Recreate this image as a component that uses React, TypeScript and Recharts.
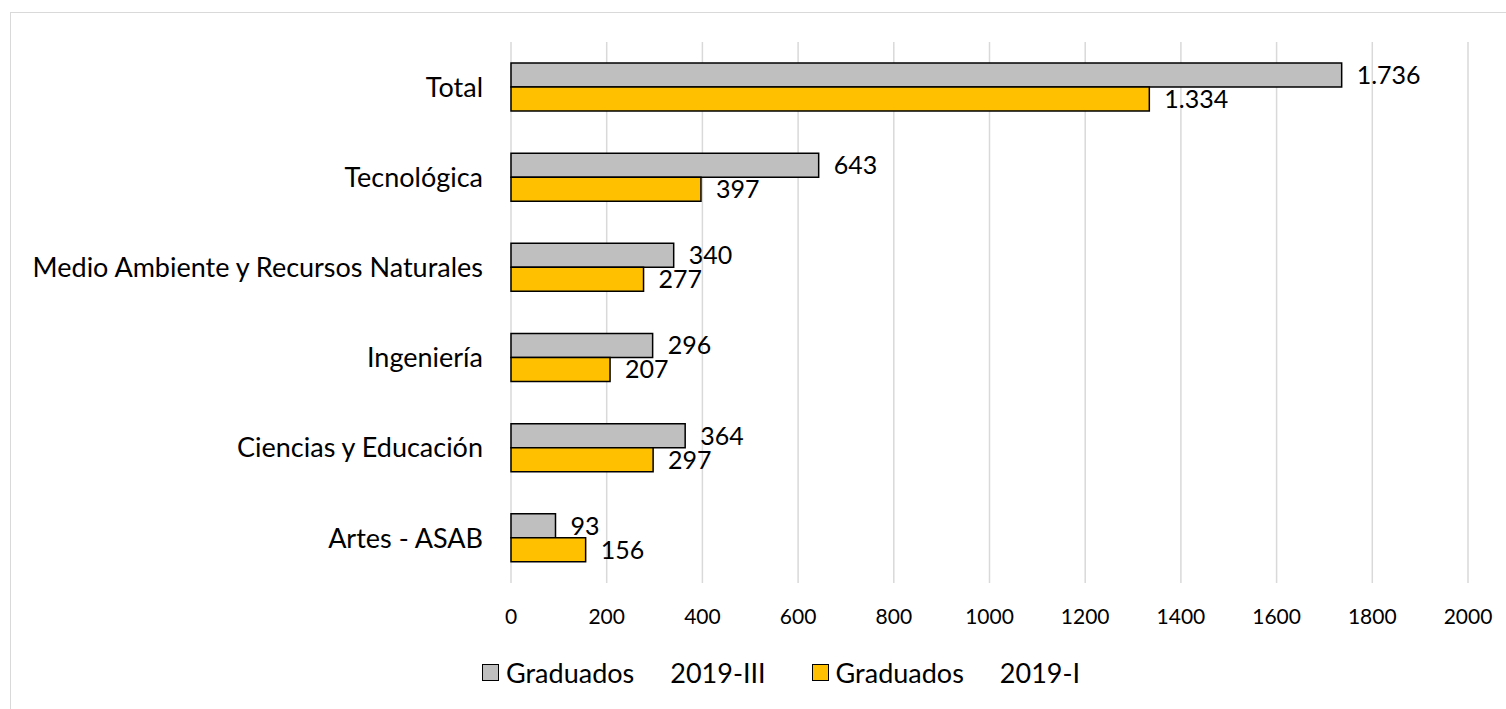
import React from 'react';
import { BarChart, Bar, XAxis, YAxis, CartesianGrid, Legend, LabelList } from 'recharts';

const categories = [
  'Total',
  'Tecnológica',
  'Medio Ambiente y Recursos Naturales',
  'Ingeniería',
  'Ciencias y Educación',
  'Artes - ASAB',
];
const graduados2019III = [1736, 643, 340, 296, 364, 93];
const graduados2019I = [1334, 397, 277, 207, 297, 156];
const xTicks = [0, 200, 400, 600, 800, 1000, 1200, 1400, 1600, 1800, 2000];

const data = categories.map((name, i) => ({
  name,
  g3: graduados2019III[i],
  g1: graduados2019I[i],
}));

const FONT = 'Lato, "Open Sans", sans-serif';
const GRAY = '#BFBFBF';
const YELLOW = '#FFC000';

// thousands separator with a dot, like the source (1.736)
const fmt = (v: any) => String(v).replace(/\B(?=(\d{3})+(?!\d))/g, '.');

function LegendBox() {
  const items = [
    { color: GRAY, label: 'Graduados', period: '2019-III' },
    { color: YELLOW, label: 'Graduados', period: '2019-I' },
  ];
  return (
    <div style={{ display: 'flex', alignItems: 'center', height: 30, fontFamily: FONT, fontSize: 27, color: '#000' }}>
      {items.map((it, i) => (
        <div key={i} style={{ display: 'flex', alignItems: 'center', marginRight: i === 0 ? 46 : 0 }}>
          <span
            style={{
              display: 'inline-block',
              width: 15,
              height: 15,
              background: it.color,
              border: '1.5px solid #000',
              marginRight: 7,
            }}
          />
          <span>{it.label}</span>
          <span style={{ marginLeft: 36 }}>{it.period}</span>
        </div>
      ))}
    </div>
  );
}

export default function App() {
  return (
    <div style={{ position: 'fixed', left: 0, top: 0, width: 1506, height: 709, overflow: 'hidden', background: '#fff' }}>
      <div
        style={{
          position: 'absolute',
          left: 10,
          top: 12,
          width: 1520,
          height: 720,
          border: '1.5px solid #D9D9D9',
        }}
      />
      <div style={{ position: 'absolute', left: 0, top: 0 }}>
        <BarChart
          width={1506}
          height={709}
          data={data}
          layout="vertical"
          margin={{ top: 42, right: 38, bottom: 46, left: 0 }}
          barSize={24}
          barGap={0}
        >
          <CartesianGrid horizontal={false} stroke="#D9D9D9" strokeWidth={1.5} />
          <XAxis
            type="number"
            domain={[0, 2000]}
            ticks={xTicks}
            axisLine={false}
            tickLine={false}
            tickMargin={20}
            height={50}
            interval={0}
            tick={{ fill: '#000', fontSize: 21, fontFamily: FONT }}
          />
          <YAxis
            type="category"
            dataKey="name"
            width={511}
            axisLine={false}
            tickLine={false}
            tickMargin={22}
            interval={0}
            tick={{ fill: '#000', fontSize: 27, fontFamily: FONT }}
          />
          <Legend
            verticalAlign="bottom"
            content={() => <LegendBox />}
            wrapperStyle={{ left: 482, bottom: 22, height: 30, width: 'auto' }}
          />
          <Bar dataKey="g3" name="Graduados 2019-III" fill={GRAY} stroke="#000" strokeWidth={1.5} isAnimationActive={false}>
            <LabelList dataKey="g3" position="right" offset={15} formatter={fmt} fill="#000" fontSize={25} fontFamily={FONT} />
          </Bar>
          <Bar dataKey="g1" name="Graduados 2019-I" fill={YELLOW} stroke="#000" strokeWidth={1.5} isAnimationActive={false}>
            <LabelList dataKey="g1" position="right" offset={15} formatter={fmt} fill="#000" fontSize={25} fontFamily={FONT} />
          </Bar>
        </BarChart>
      </div>
    </div>
  );
}
